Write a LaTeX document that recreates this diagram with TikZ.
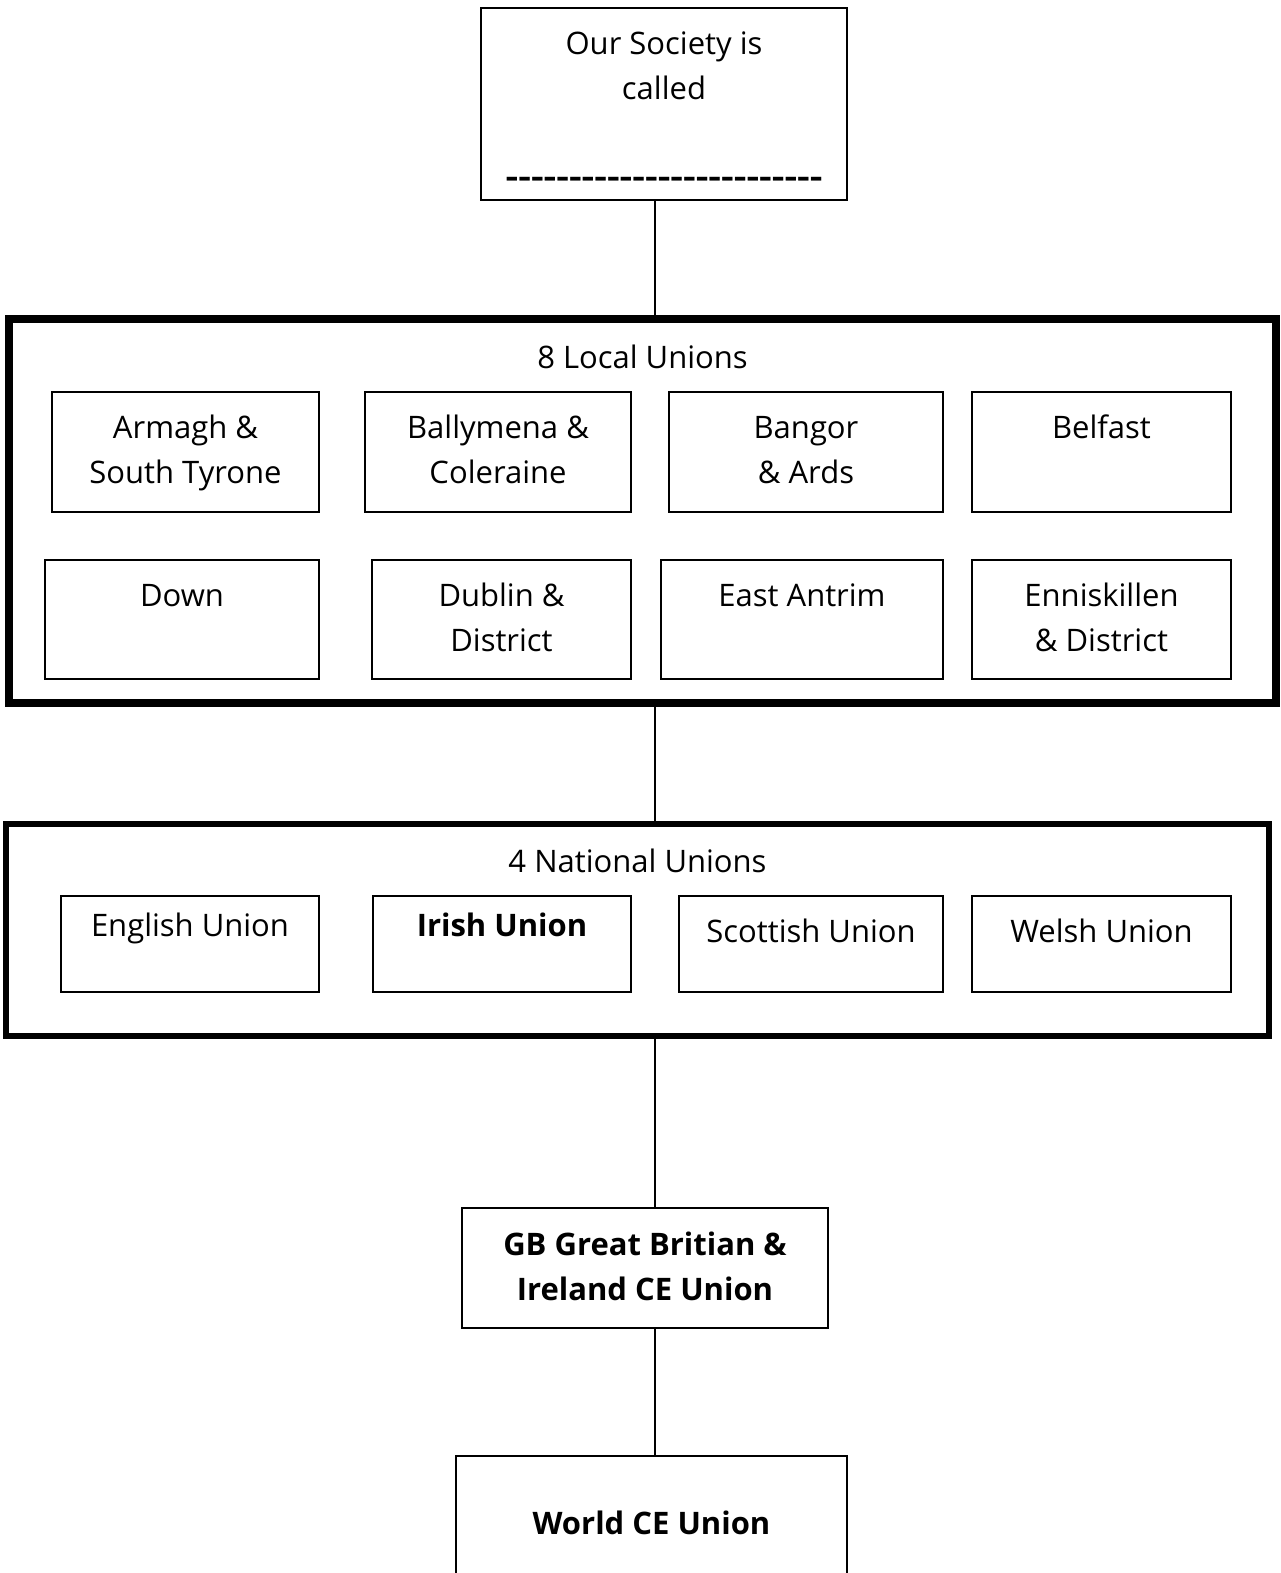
\documentclass[tikz,border=0pt]{standalone}
\usepackage{fontspec}
\setmainfont{Open Sans}
\usetikzlibrary{positioning}
\newcommand{\unitfont}{\fontsize{31}{45}\selectfont}
\tikzstyle{unit} = [rectangle, draw, line width=2pt, inner sep=0pt, outer sep=0pt, anchor=north west]
\tikzstyle{unionframe} = [rectangle, draw, line width=8pt, inner sep=0pt, outer sep=0pt, anchor=north west]
\tikzstyle{boxtext} = [inner sep=0pt, outer sep=0pt, align=center, font=\unitfont]
\tikzstyle{link} = [line width=2pt]

\begin{document}
\begin{tikzpicture}[x=1pt,y=-1pt]
\useasboundingbox (0,0) rectangle (1281,1573);
\fill[white] (0,0) rectangle (1281,1573);
\coordinate (spine) at (655,0);

% Society box
\node (society) [unit, line width=2.5pt, minimum width=366, minimum height=192] at (481,8) {};
\node (society-t) [boxtext, below=15.5pt of society.north] {\strut Our Society is\\called};
\node (society-d) [boxtext, below=147.5pt of society.north] {\strut\scalebox{1.27}[1]{\bfseries -{}-{}-{}-{}-{}-{}-{}-{}-{}-{}-{}-{}-{}-{}-{}-{}-{}-{}-{}-{}-{}-{}-{}-{}-}};

% Local unions
\node (local) [unionframe, minimum width=1267, minimum height=384] at (9,319) {};
\node (local-t) [boxtext, below=17.5pt of local.north] {\strut 8 Local Unions};
\node (armagh) [unit, minimum width=267, minimum height=120] at (52,392) {};
\node (ballymena) [unit, minimum width=266, minimum height=120] at (365,392) {};
\node (bangor) [unit, minimum width=274, minimum height=120] at (669,392) {};
\node (belfast) [unit, minimum width=259, minimum height=120] at (972,392) {};
\node (down) [unit, minimum width=274, minimum height=119] at (45,560) {};
\node (dublin) [unit, minimum width=259, minimum height=119] at (372,560) {};
\node (eastantrim) [unit, minimum width=282, minimum height=119] at (661,560) {};
\node (enniskillen) [unit, minimum width=259, minimum height=119] at (972,560) {};
\node (armagh-t) [boxtext, below=14.5pt of armagh.north] {\strut Armagh \&\\South Tyrone};
\node (ballymena-t) [boxtext, below=14.5pt of ballymena.north] {\strut Ballymena \&\\Coleraine};
\node (bangor-t) [boxtext, below=14.5pt of bangor.north] {\strut Bangor\\\& Ards};
\node (belfast-t) [boxtext, below=14.5pt of belfast.north] {\strut Belfast};
\node (down-t) [boxtext, below=14.5pt of down.north] {\strut Down};
\node (dublin-t) [boxtext, below=14.5pt of dublin.north] {\strut Dublin \&\\District};
\node (eastantrim-t) [boxtext, below=14.5pt of eastantrim.north] {\strut East Antrim};
\node (enniskillen-t) [boxtext, below=14.5pt of enniskillen.north] {\strut Enniskillen\\\& District};

% National unions
\node (national) [unionframe, line width=6pt, minimum width=1263, minimum height=212] at (6,824) {};
\node (national-t) [boxtext, below=16.5pt of national.north] {\strut 4 National Unions};
\node (english) [unit, minimum width=258, minimum height=96] at (61,896) {};
\node (irish) [unit, minimum width=258, minimum height=96] at (373,896) {};
\node (scottish) [unit, minimum width=264, minimum height=96] at (679,896) {};
\node (welsh) [unit, minimum width=259, minimum height=96] at (972,896) {};
\node (english-t) [boxtext, below=8.5pt of english.north] {\strut English Union};
\node (irish-t) [boxtext, font=\unitfont\bfseries, below=8.5pt of irish.north] {\strut Irish Union};
\node (scottish-t) [boxtext, below=14.5pt of scottish.north] {\strut Scottish Union};
\node (welsh-t) [boxtext, below=14.5pt of welsh.north] {\strut Welsh Union};

% GB and World
\node (gb) [unit, minimum width=366, minimum height=120] at (462,1208) {};
\node (gb-t) [boxtext, font=\unitfont\bfseries, below=15.5pt of gb.north] {\strut GB Great Britian \&\\Ireland CE Union};
\node (world) [unit, minimum width=391, minimum height=200] at (456,1456) {};
\node (world-t) [boxtext, font=\unitfont\bfseries, below=46.5pt of world.north] {\strut World CE Union};

% Connectors
\draw[link] (society.south -| spine) -- (local.north -| spine);
\draw[link] (local.south -| spine) -- (national.north -| spine);
\draw[link] (national.south -| spine) -- (gb.north -| spine);
\draw[link] (gb.south -| spine) -- (world.north -| spine);

\end{tikzpicture}
\end{document}
